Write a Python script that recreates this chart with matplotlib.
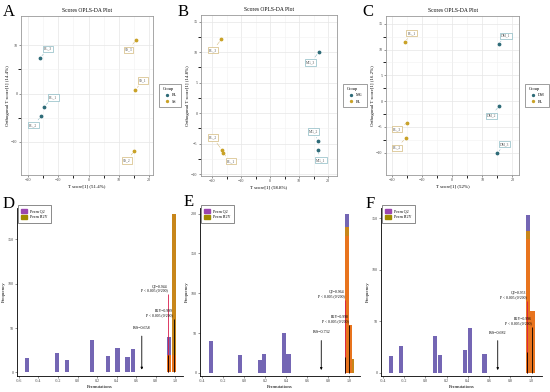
import matplotlib
matplotlib.use("Agg")
import matplotlib.pyplot as plt
import numpy as np

plt.rcParams['font.family'] = ['Liberation Serif', 'DejaVu Serif']

# ---- score plots (top row) ----
a_bl_x = [-16.0, -14.7, -15.6]
a_bl_y = [7.4, -2.7, -4.7]
a_bl_lab = ["BL_3", "BL_1", "BL_2"]
a_ss_x = [15.8, 15.5, 15.1]
a_ss_y = [11.2, 0.8, -11.9]
a_ss_lab = ["SS_3", "SS_1", "SS_2"]

b_mg_x = [16.8, 16.4, 16.4]
b_mg_y = [10.0, -4.5, -6.0]
b_mg_lab = ["MG_3", "MG_2", "MG_1"]
b_bl_x = [-16.9, -16.7, -16.2]
b_bl_y = [12.1, -6.0, -6.6]
b_bl_lab = ["BL_3", "BL_2", "BL_1"]

c_dm_x = [15.4, 15.6, 15.0]
c_dm_y = [11.1, -0.9, -10.1]
c_dm_lab = ["DM_1", "DM_2", "DM_3"]
c_bl_x = [-15.8, -15.2, -15.6]
c_bl_y = [11.45, -4.25, -7.2]
c_bl_lab = ["BL_1", "BL_3", "BL_2"]

# ---- permutation histograms (bottom row) ----
d_q2_x = [-0.52, -0.21, -0.11, 0.15, 0.31, 0.41, 0.51, 0.57, 0.935]
d_q2_h = [16, 22, 14, 37, 19, 28, 17, 26, 40]
d_r2y_x = [0.985]
d_r2y_h = [178]
d_or_x = [0.935, 0.985]
d_or_h = [20, 20]
d_rs = 0.658
d_q2 = 0.944
d_r2y = 0.999

e_q2_x = [-0.316, -0.04, 0.147, 0.19, 0.375, 0.42, 0.975]
e_q2_h = [40, 23, 16, 24, 50, 24, 200]
e_r2y_x = [0.975, 1.02]
e_r2y_h = [183, 17]
e_or_x = [0.975, 1.0]
e_or_h = [172, 60]
e_rs = 0.732
e_q2 = 0.964
e_r2y = 0.998

f_q2_x = [-0.322, -0.23, 0.09, 0.137, 0.37, 0.417, 0.557, 0.97]
f_q2_h = [16, 26, 36, 17, 22, 44, 18, 153]
f_r2y_x = [0.97]
f_r2y_h = [138]
f_or_x = [0.97, 1.01]
f_or_h = [130, 60]
f_rs = 0.682
f_q2 = 0.953
f_r2y = 0.996

TEAL = '#2E6B78'
GOLD = '#C9A227'
TEAL_L = '#6FA9B5'
GOLD_L = '#C9A85A'
PURPLE = '#7466B4'
PURPLE_L = '#9A45B0'
OLIVE = '#A08A00'
ORANGE = '#E8741E'
BROWN = '#C8861A'

W, H = 550, 392
fig = plt.figure(figsize=(W / 100, H / 100), dpi=100)


def px(l, t, r, b):
    return [l / W, 1 - b / H, (r - l) / W, (b - t) / H]


def scores(rect, xlim, ylim, yticks, g1, g2, xlab, ylab, letter, lpos):
    ax = fig.add_axes(px(*rect))
    ax.set_xlim(*xlim)
    ax.set_ylim(*ylim)
    ax.set_xticks([-20, -10, 0, 10, 20])
    ax.set_yticks(yticks)
    ax.set_xticks([-15, -5, 5, 15], minor=True)
    ax.set_yticks(np.array(yticks[:-1]) + (yticks[1] - yticks[0]) / 2, minor=True)
    ax.grid(True, which='major', color='#E6E6E6', lw=0.5)
    ax.grid(True, which='minor', color='#F2F2F2', lw=0.4)
    ax.set_axisbelow(True)
    for s in ax.spines.values():
        s.set_color('#999999')
        s.set_linewidth(0.6)
    ax.tick_params(labelsize=3, length=1.5, width=0.4, pad=1, colors='#444444')
    ax.set_title("Scores OPLS-DA Plot", fontsize=4, pad=3)
    ax.set_xlabel(xlab, fontsize=3.5, labelpad=1)
    ax.set_ylabel(ylab, fontsize=3.5, labelpad=1)
    for (xs, ys, labs, name, col, lcol), poss in zip([g1, g2], lpos):
        ax.scatter(xs, ys, s=3, color=col, label=name, zorder=3)
        for x, y, lab, (tx, ty) in zip(xs, ys, labs, poss):
            ax.annotate(lab, (x, y), (tx, ty), fontsize=2.6, color='#555555',
                        ha='center', va='center',
                        bbox=dict(boxstyle='square,pad=0.3', fc='white', ec=lcol, lw=0.4),
                        arrowprops=dict(arrowstyle='-', color=lcol, lw=0.3))
    leg = ax.legend(title="Group", loc='center left', bbox_to_anchor=(1.04, 0.5),
                    fontsize=3, title_fontsize=3.2, frameon=True, markerscale=0.8,
                    handletextpad=0.2, borderpad=0.6, labelspacing=0.5)
    leg.get_frame().set_edgecolor('#555555')
    leg.get_frame().set_linewidth(0.5)
    leg.get_frame().set_boxstyle('square')
    leg._legend_box.align = 'left'
    fig.text(letter[0] / W, 1 - letter[1] / H, letter[2], fontsize=12, va='top')
    return ax


scores((21, 16, 153, 175), (-22.3, 21.3), (-16.9, 16.1), [-10, 0, 10],
       (a_bl_x, a_bl_y, a_bl_lab, "BL", TEAL, TEAL_L),
       (a_ss_x, a_ss_y, a_ss_lab, "SS", GOLD, GOLD_L),
       "T score[1] (51.4%)", "Orthogonal T score[1] (14.4%)", (3, 4, "A"),
       [[(-13.4, 9.3), (-11.6, -0.8), (-18.2, -6.6)],
        [(13.2, 9.1), (18.0, 2.7), (12.7, -13.9)]])

scores((201, 15, 337, 176), (-23.9, 23.1), (-10.3, 16.1), [-10, -5, 0, 5, 10, 15],
       (b_mg_x, b_mg_y, b_mg_lab, "MG", TEAL, TEAL_L),
       (b_bl_x, b_bl_y, b_bl_lab, "BL", GOLD, GOLD_L),
       "T score[1] (58.8%)", "Orthogonal T score[1] (14.8%)", (178, 4, "B"),
       [[(14.0, 8.3), (15.0, -3.0), (17.5, -7.7)],
        [(-19.8, 10.3), (-19.8, -4.0), (-13.6, -7.9)]])

scores((386, 16, 519, 175), (-22.1, 22.2), (-14.3, 16.5), [-10, -5, 0, 5, 10, 15],
       (c_dm_x, c_dm_y, c_dm_lab, "DM", TEAL, TEAL_L),
       (c_bl_x, c_bl_y, c_bl_lab, "BL", GOLD, GOLD_L),
       "T score[1] (52%)", "Orthogonal T score[1] (16.2%)", (362, 4, "C"),
       [[(17.8, 12.7), (13.0, -2.8), (17.3, -8.3)],
        [(-13.6, 13.2), (-18.5, -5.4), (-18.5, -9.0)]])


def perm(rect, xlim, xticks, ylim, yticks, q2x, q2h, r2x, r2h, orx, orh, width,
         rs, rs_top, q2, q2_top, q2_line, r2y, r2_top, r2_line, letter):
    ax = fig.add_axes(px(*rect))
    ax.bar(q2x, q2h, width=width, color=PURPLE, zorder=2)
    ax.bar(r2x, r2h, width=width, color=BROWN, zorder=3)
    ax.bar(orx, orh, width=width, color=ORANGE, zorder=4)
    ax.set_xlim(*xlim)
    ax.set_ylim(*ylim)
    ax.set_xticks(xticks)
    ax.set_xticklabels(["%.1f" % t for t in xticks])
    ax.set_yticks(yticks)
    for s in ['top', 'right']:
        ax.spines[s].set_visible(False)
    for s in ['left', 'bottom']:
        ax.spines[s].set_linewidth(0.6)
    ax.tick_params(labelsize=3, length=1.5, width=0.4, pad=1, colors='#444444')
    ax.set_xlabel("Permutations", fontsize=3.5, labelpad=1)
    ax.set_ylabel("Frequency", fontsize=3.5, labelpad=1)
    ax.annotate("", (rs, 0), (rs, rs_top),
                arrowprops=dict(arrowstyle='-|>', color='black', lw=0.6, mutation_scale=3))
    ax.text(rs, rs_top + ylim[1] * 0.02, "R/S=%.3f" % rs, fontsize=3, ha='center', va='bottom')
    ax.vlines(q2_line, 0, q2_top, color='#D81B4A', lw=0.6, zorder=5)
    ax.vlines(q2_line, 0, min(q2_top, 20), color='black', lw=0.6, zorder=6)
    ax.vlines(r2_line, 0, r2_top, color='black', lw=0.6, zorder=6)
    ax.text(q2_line - 0.005, q2_top + ylim[1] * 0.01,
            "Q2=%.3f\nP < 0.005 (0/200)" % q2, fontsize=2.8, ha='right', va='bottom',
            linespacing=1.1, zorder=7)
    ax.text(r2_line - 0.005, r2_top + ylim[1] * 0.01,
            "R2Y=%.3f\nP < 0.005 (0/200)" % r2y, fontsize=2.8, ha='right', va='bottom',
            linespacing=1.1, zorder=7)
    hq = plt.Rectangle((0, 0), 1, 1, color=PURPLE_L)
    hr = plt.Rectangle((0, 0), 1, 1, color=OLIVE)
    leg = ax.legend([hq, hr], ["Perm Q2", "Perm R2Y"], loc='upper left',
                    bbox_to_anchor=(0.0, 1.02), fontsize=3, frameon=True,
                    handlelength=1.4, handleheight=1.3, borderpad=0.5, labelspacing=0.3)
    leg.get_frame().set_edgecolor('#333333')
    leg.get_frame().set_linewidth(0.5)
    leg.get_frame().set_boxstyle('square')
    fig.text(letter[0] / W, 1 - letter[1] / H, letter[2], fontsize=12, va='top')
    return ax


perm((17, 208, 183, 376), (-0.62, 1.08), [-0.6, -0.4, -0.2, 0.0, 0.2, 0.4, 0.6, 0.8, 1.0],
     (-4, 185), [0, 50, 100, 150],
     d_q2_x, d_q2_h, d_r2y_x, d_r2y_h, d_or_x, d_or_h, 0.045,
     d_rs, 44, d_q2, 88, 0.93, d_r2y, 60, 0.985, (3, 196, "D"))

perm((200, 208, 360, 376), (-0.42, 1.1), [-0.4, -0.2, 0.0, 0.2, 0.4, 0.6, 0.8, 1.0],
     (-4, 207), [0, 50, 100, 150, 200],
     e_q2_x, e_q2_h, e_r2y_x, e_r2y_h, e_or_x, e_or_h, 0.04,
     e_rs, 44, e_q2, 92, 0.96, e_r2y, 60, 1.0, (184, 194, "E"))

perm((381, 208, 542, 376), (-0.42, 1.1), [-0.4, -0.2, 0.0, 0.2, 0.4, 0.6, 0.8, 1.0],
     (-3, 160), [0, 50, 100, 150],
     f_q2_x, f_q2_h, f_r2y_x, f_r2y_h, f_or_x, f_or_h, 0.04,
     f_rs, 34, f_q2, 70, 0.96, f_r2y, 45, 1.01, (366, 196, "F"))

fig.savefig("out.png", dpi=100)
